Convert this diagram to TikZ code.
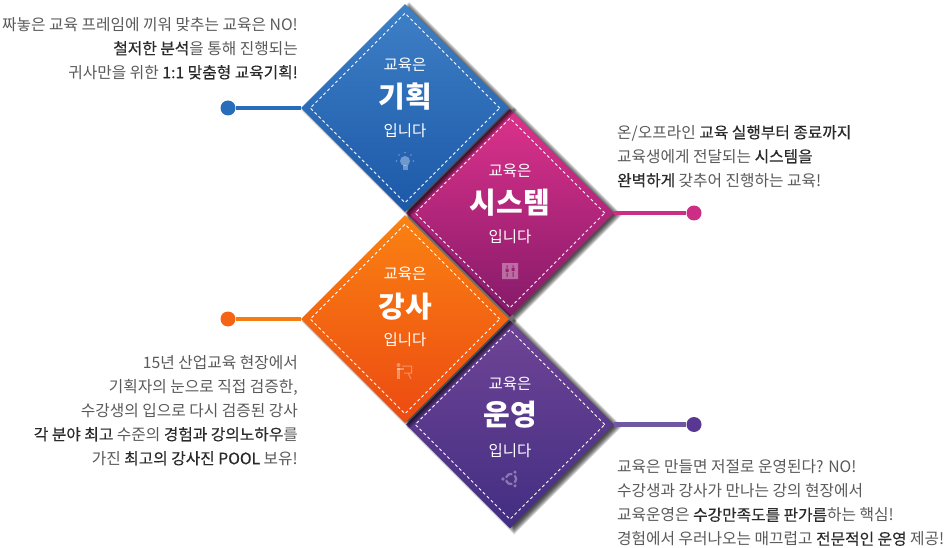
\documentclass[tikz,border=0pt]{standalone}
\usepackage{fontspec}
\setmainfont{Noto Sans CJK KR}
\newfontfamily\midweight[FakeBold=0.35]{Noto Sans CJK KR}
\usetikzlibrary{shapes.geometric}
\definecolor{txt}{HTML}{5A5A5A}
\definecolor{txb}{HTML}{2A2A2A}
\definecolor{bluepin}{RGB}{40,108,188}
\definecolor{magpin}{RGB}{204,45,133}
\definecolor{orapin}{RGB}{245,100,20}
\definecolor{purpin}{RGB}{88,56,146}
\newcommand{\bb}[1]{{\midweight\color{txb}#1}}
\tikzset{
  x=1pt,y=-1pt,
  dia/.style={diamond,aspect=1,inner sep=0pt,minimum width=208pt,minimum height=208pt},
  dashdia/.style={diamond,aspect=1,inner sep=0pt,minimum width=190pt,minimum height=190pt,draw=white,line width=.9pt,dash pattern=on 3pt off 2.6pt},
  pin/.style={circle,inner sep=0pt,minimum size=15pt},
  lead/.style={line width=4.8pt},
  small/.style={white,font=\fontsize{15.5pt}{17pt}\selectfont,inner sep=0pt},
  big/.style={white,font=\fontsize{29pt}{31pt}\selectfont\bfseries,inner sep=0pt},
  para/.style={text=txt,font=\fontsize{15.75pt}{24pt}\selectfont,inner sep=0pt},
  icon/.style={white,opacity=.35},
}
% soft shadow: stacked translucent diamonds, cast to the lower right
\newcommand{\softshadow}[2]{%
  \foreach \k in {0,...,8}{
    \pgfmathsetmacro{\hh}{108-\k}
    \fill[black,opacity=.12] (#1+4,#2+2-\hh) -- (#1+4+\hh,#2+2) -- (#1+4,#2+2+\hh) -- (#1+4-\hh,#2+2) -- cycle;
  }
}
\begin{document}
\begin{tikzpicture}
\useasboundingbox (0,0) rectangle (945,548);
\fill[white] (0,0) rectangle (945,548);

\node[pin,fill=bluepin] (pa) at (228,108) {};
\node[pin,fill=magpin] (pb) at (694,213) {};
\node[pin,fill=orapin] (pc) at (228,319) {};
\node[pin,fill=purpin] (pd) at (694,424.5) {};

\softshadow{510}{424.5}
\node[dia,top color={rgb,255:red,112;green,68;blue,150},bottom color={rgb,255:red,66;green,46;blue,130}] (d) at (510,424.5) {};
\softshadow{510}{213}
\node[dia,top color={rgb,255:red,222;green,50;blue,140},bottom color={rgb,255:red,132;green,26;blue,105}] (b) at (510,213) {};
\softshadow{405}{319}
\node[dia,top color={rgb,255:red,250;green,130;blue,18},bottom color={rgb,255:red,236;green,74;blue,18}] (c) at (405,319) {};
\softshadow{405}{108}
\node[dia,top color={rgb,255:red,62;green,128;blue,198},bottom color={rgb,255:red,28;green,88;blue,168}] (a) at (405,108) {};

\draw[lead,color=bluepin] (pa) -- (a.west);
\draw[lead,color=magpin] (pb) -- (b.east);
\draw[lead,color=orapin!85!yellow] (pc) -- (c.west);
\draw[lead,color=purpin!85!white] (pd) -- (d.east);

\node[dashdia] (ai) at (405,108) {};
\node[dashdia] (bi) at (510,213) {};
\node[dashdia] (ci) at (405,319) {};
\node[dashdia] (di) at (510,424.5) {};

% labels
\node[small] (a1) at (405,65) {교육은};
\node[big] (a2) at (405,97) {기획};
\node[small] (a3) at (405,131) {입니다};
\node[small] (b1) at (510,171) {교육은};
\node[big] (b2) at (510,203) {시스템};
\node[small] (b3) at (510,237) {입니다};
\node[small] (c1) at (405,274) {교육은};
\node[big] (c2) at (405,307) {강사};
\node[small] (c3) at (405,340) {입니다};
\node[small] (d1) at (510,384) {교육은};
\node[big] (d2) at (510,415) {운영};
\node[small] (d3) at (510,451) {입니다};

% icons
\begin{scope}[icon]
  % bulb
  \fill (405,161) circle (5pt);
  \fill (402.5,165) rectangle (407.5,170);
  \foreach \ang in {180,225,270,315,0}{\fill (405,161)++(\ang:8.5) circle (.9pt);}
  % sliders
  \fill[even odd rule] (502,263) rectangle (518,279)
     (506.5,265) rectangle (507.5,268) (505.5,268.5) rectangle (508.5,272) (506.5,272.5) rectangle (507.5,277)
     (512.5,265) rectangle (513.5,267) (511.5,267.5) rectangle (514.5,271) (512.5,271.5) rectangle (513.5,277);
  % presenter
  \fill (398.5,365) circle (2pt);
  \fill (397,368) rectangle (400,379);
  \fill (397,368) rectangle (404,370);
  \draw[white,line width=1pt] (402,366) -- (411.5,366) -- (411.5,373) -- (404,373) (408,373) -- (411,379);
  % network
  \foreach \s in {0,120,240}{
    \draw[white,line width=2.2pt] (511,479)++(\s+75:5.2) arc[start angle=\s+75,end angle=\s+165,radius=5.2];
  }
  \foreach \ang in {60,180,300}{\fill (511,479)++(\ang:8) circle (1.8pt);}
\end{scope}

% paragraphs
\node[para,align=right,anchor=north east] (ta) at (298,17) {짜놓은 교육 프레임에 끼워 맞추는 교육은 NO!\\\bb{철저한 분석}을 통해 진행되는\\귀사만을 위한 \bb{1:1 맞춤형 교육기획!}};
\node[para,align=left,anchor=north west] (tb) at (617,125) {온/오프라인 \bb{교육 실행부터 종료까지}\\교육생에게 전달되는 \bb{시스템을}\\\bb{완벽하게} 갖추어 진행하는 교육!};
\node[para,align=right,anchor=north east] (tc) at (298,355) {15년 산업교육 현장에서\\기획자의 눈으로 직접 검증한,\\수강생의 입으로 다시 검증된 강사\\\bb{각 분야 최고} 수준의 \bb{경험과 강의노하우}를\\가진 \bb{최고의 강사진 POOL} 보유!};
\node[para,align=left,anchor=north west] (td) at (617,459.5) {교육은 만들면 저절로 운영된다? NO!\\수강생과 강사가 만나는 강의 현장에서\\교육운영은 \bb{수강만족도를 판가름}하는 핵심!\\경험에서 우러나오는 매끄럽고 \bb{전문적인 운영} 제공!};
\end{tikzpicture}
\end{document}
